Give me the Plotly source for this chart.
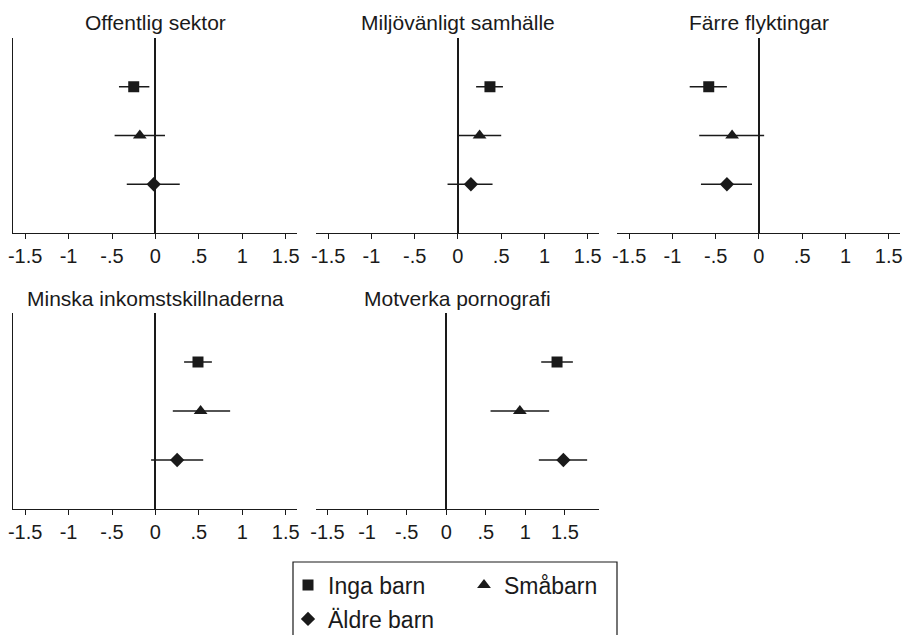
import plotly.graph_objects as go

# ---- data ----
groups = ["Inga barn", "Småbarn", "Äldre barn"]
titles = ["Offentlig sektor", "Miljövänligt samhälle", "Färre flyktingar",
          "Minska inkomstskillnaderna", "Motverka pornografi"]
estimates = [
    [-0.25, -0.18, -0.02],
    [0.37, 0.25, 0.15],
    [-0.58, -0.31, -0.37],
    [0.49, 0.52, 0.25],
    [1.40, 0.93, 1.48],
]
ci_low = [
    [-0.42, -0.47, -0.33],
    [0.21, -0.01, -0.12],
    [-0.80, -0.69, -0.67],
    [0.33, 0.20, -0.05],
    [1.20, 0.56, 1.17],
]
ci_high = [
    [-0.07, 0.11, 0.28],
    [0.52, 0.50, 0.40],
    [-0.37, 0.06, -0.08],
    [0.65, 0.86, 0.55],
    [1.60, 1.30, 1.78],
]
tick_vals = [-1.5, -1, -0.5, 0, 0.5, 1, 1.5]
tick_text = ["-1.5", "-1", "-.5", "0", ".5", "1", "1.5"]

# ---- styling ----
W, H = 904, 635
INK = "#1a1a1a"
FONT = "Liberation Sans, Arial, sans-serif"
symbols = {"Inga barn": "square", "Småbarn": "triangle-up", "Äldre barn": "diamond"}
sizes = {"Inga barn": 11, "Småbarn": 12, "Äldre barn": 11}
legend_names = {"Inga barn": "legend", "Småbarn": "legend2", "Äldre barn": "legend3"}

# panel domains in pixels (left, right, top, bottom)
px_dom = [
    (13, 297, 38, 233),
    (316, 599, 38, 233),
    (617, 900, 38, 233),
    (13, 297, 313, 509),
    (316, 599, 313, 509),
]
title_off = [16, 16, 16, 15, 15]
x_ranges = [[-1.64, 1.63]] * 4 + [[-1.645, 1.93]]
show_yline = [True, False, False, True, False]

fig = go.Figure()
layout = {}
for i in range(5):
    n = "" if i == 0 else str(i + 1)
    xa, ya = "x" + n, "y" + n
    for j, g in enumerate(groups):
        e = estimates[i][j]
        fig.add_trace(go.Scatter(
            x=[e], y=[g], xaxis=xa, yaxis=ya, mode="markers", name=g,
            marker=dict(symbol=symbols[g], size=sizes[g], color=INK,
                        line=dict(width=0)),
            error_x=dict(type="data", symmetric=False,
                         array=[ci_high[i][j] - e], arrayminus=[e - ci_low[i][j]],
                         color=INK, thickness=1.5, width=0),
            showlegend=(i == 0), legend=legend_names[g], cliponaxis=False,
        ))
    l, r, t, b = px_dom[i]
    layout["xaxis" + n] = dict(
        domain=[l / W, r / W], anchor=ya, range=x_ranges[i],
        tickvals=tick_vals, ticktext=tick_text, ticks="outside", ticklen=5,
        tickwidth=1.1, tickcolor=INK, showline=True, linecolor=INK, linewidth=1.3,
        showgrid=False, zeroline=True, zerolinecolor=INK, zerolinewidth=1.5,
        tickfont=dict(size=20, color=INK, family=FONT), automargin=False,
        fixedrange=True,
    )
    layout["yaxis" + n] = dict(
        domain=[1 - b / H, 1 - t / H], anchor=xa, type="category",
        categoryarray=groups[::-1], range=[-1, 3], showticklabels=False,
        ticks="", showgrid=False, zeroline=False, showline=show_yline[i],
        linecolor=INK, linewidth=1.3, automargin=False, fixedrange=True,
    )
    fig.add_annotation(
        text=titles[i], xref="paper", yref="paper", x=(l + r) / 2 / W,
        y=1 - (t - title_off[i]) / H, xanchor="center", yanchor="middle",
        showarrow=False, font=dict(size=21, color=INK, family=FONT),
    )

leg_common = dict(font=dict(size=23, color=INK, family=FONT), bgcolor="rgba(0,0,0,0)",
                  borderwidth=0, xanchor="left", yanchor="middle", itemclick=False)
fig.update_layout(
    **layout,
    width=W, height=H, margin=dict(l=0, r=0, t=0, b=0, autoexpand=False),
    paper_bgcolor="white", plot_bgcolor="white",
    font=dict(family=FONT, color=INK),
    legend=dict(x=288 / W, y=1 - 585 / H, **leg_common),
    legend2=dict(x=464 / W, y=1 - 585 / H, **leg_common),
    legend3=dict(x=288 / W, y=1 - 619 / H, **leg_common),
    shapes=[dict(type="rect", xref="paper", yref="paper",
                 x0=293 / W, x1=617 / W, y0=1 - 645 / H, y1=1 - 562 / H,
                 line=dict(color=INK, width=1.2), fillcolor="rgba(0,0,0,0)")],
)
fig.write_html(
    "out.html",
    config={"displayModeBar": False},
    post_script="document.body.style.margin='0px';document.body.style.overflow='hidden';",
)
